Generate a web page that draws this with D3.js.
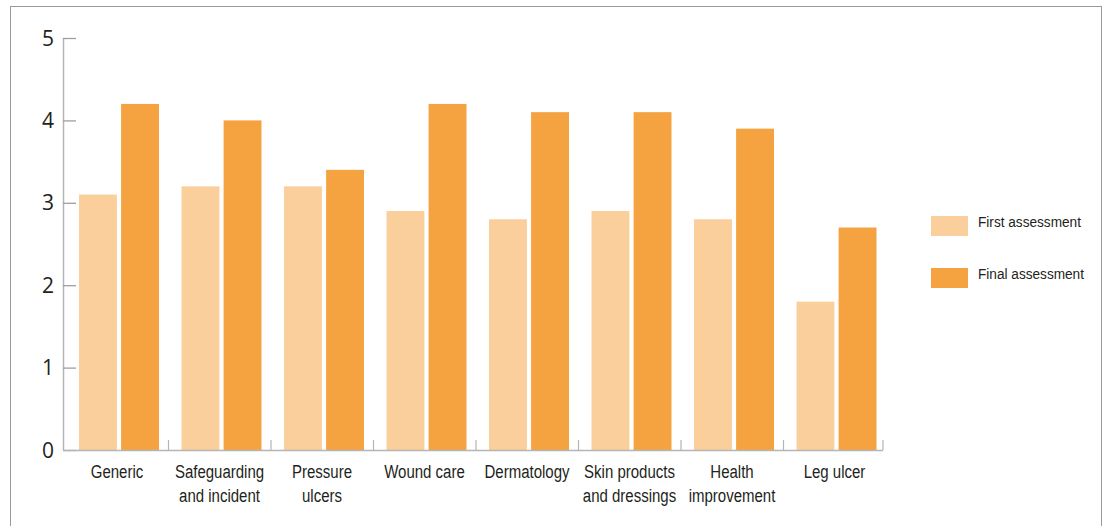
<!DOCTYPE html>
<html>
<head>
<meta charset="utf-8">
<script src="https://cdn.jsdelivr.net/npm/d3@7"></script>
<style>
  html, body { margin: 0; padding: 0; background: #fff; }
  svg { display: block; }
  text { font-family: "Liberation Sans", Arial, sans-serif; fill: #231f20; }
</style>
</head>
<body>
<svg id="chart" width="1107" height="526"></svg>
<script>
// Competence scores per module
const categories = [
  ["Generic"],
  ["Safeguarding", "and incident"],
  ["Pressure", "ulcers"],
  ["Wound care"],
  ["Dermatology"],
  ["Skin products", "and dressings"],
  ["Health", "improvement"],
  ["Leg ulcer"]
];
const firstAssessment = [3.1, 3.2, 3.2, 2.9, 2.8, 2.9, 2.8, 1.8];
const finalAssessment = [4.2, 4.0, 3.4, 4.2, 4.1, 4.1, 3.9, 2.7];
const seriesNames = ["First assessment", "Final assessment"];
const yTicks = [0, 1, 2, 3, 4, 5];

const colors = ["#fbcf9b", "#f5a340"];
const narrow = 0.79;   // horizontal squeeze giving a condensed face
const svg = d3.select("#chart");

// frame around the figure
svg.append("rect")
  .attr("x", 10.5).attr("y", 6.5)
  .attr("width", 1091).attr("height", 540)
  .attr("fill", "none").attr("stroke", "#9a9a9a").attr("stroke-width", 1);

const plotLeft = 63, plotTop = 38, plotBottom = 450;
const keys = categories.map((c, i) => i);

const x = d3.scaleBand().domain(keys).range([66, 886]).paddingInner(0).paddingOuter(0);
const y = d3.scaleLinear().domain([0, 5]).range([plotBottom, plotTop]);
const inner = d3.scaleBand().domain([0, 1]).range([13, 13 + 80]).paddingInner(0.1);

const data = keys.map(i => [firstAssessment[i], finalAssessment[i]]);

// bars
const groups = svg.append("g").selectAll("g").data(data).join("g")
  .attr("transform", (d, i) => `translate(${x(i)},0)`);
groups.selectAll("rect").data(d => d).join("rect")
  .attr("x", (d, j) => inner(j))
  .attr("width", inner.bandwidth())
  .attr("y", d => y(d))
  .attr("height", d => y(0) - y(d))
  .attr("fill", (d, j) => colors[j]);

// y axis
const yAxis = svg.append("g").attr("transform", `translate(${plotLeft},0)`)
  .call(d3.axisRight(y).tickValues(yTicks).tickSize(13).tickFormat(""));
yAxis.select(".domain").attr("stroke", "#b5b5b5").attr("stroke-width", 1.5)
  .attr("d", `M0.5,${plotTop}V${plotBottom}`);
yAxis.selectAll(".tick line").attr("stroke", "#9f9f9f").attr("stroke-width", 1.3);
svg.append("g").selectAll("text").data(yTicks).join("text")
  .attr("x", 54).attr("y", d => y(d) + 7.5)
  .attr("text-anchor", "end")
  .style("font-family", "'Open Sans', sans-serif")
  .style("font-size", "21px")
  .text(d => d);

// x axis baseline with boundary ticks
const xEnd = x.range()[1] - 3;
const xb = svg.append("g");
xb.append("line").attr("x1", plotLeft).attr("x2", xEnd)
  .attr("y1", plotBottom + 0.5).attr("y2", plotBottom + 0.5)
  .attr("stroke", "#b5b5b5").attr("stroke-width", 1.5);
xb.selectAll("line.b").data(keys.slice(1).concat([keys.length])).join("line")
  .attr("class", "b")
  .attr("x1", d => d < keys.length ? x(d) : xEnd)
  .attr("x2", d => d < keys.length ? x(d) : xEnd)
  .attr("y1", plotBottom - 10).attr("y2", plotBottom)
  .attr("stroke", "#b5b5b5").attr("stroke-width", 1.2);

// category labels
const lbl = svg.append("g").selectAll("text").data(categories).join("text")
  .attr("transform", (d, i) => `translate(${x(i) + 13 + 40 - 2},478) scale(${narrow},1)`)
  .attr("text-anchor", "middle")
  .style("font-size", "19px");
lbl.selectAll("tspan").data(d => d).join("tspan")
  .attr("x", 0)
  .attr("dy", (d, j) => j === 0 ? 0 : 24)
  .text(d => d);

// legend
const leg = svg.append("g").selectAll("g").data(seriesNames).join("g")
  .attr("transform", (d, i) => `translate(931,${216 + i * 52})`);
leg.append("rect").attr("width", 37).attr("height", 20).attr("fill", (d, i) => colors[i]);
leg.append("text")
  .attr("transform", `translate(47,11) scale(0.88,1)`)
  .style("font-size", "15.5px").text(d => d);
</script>
</body>
</html>
